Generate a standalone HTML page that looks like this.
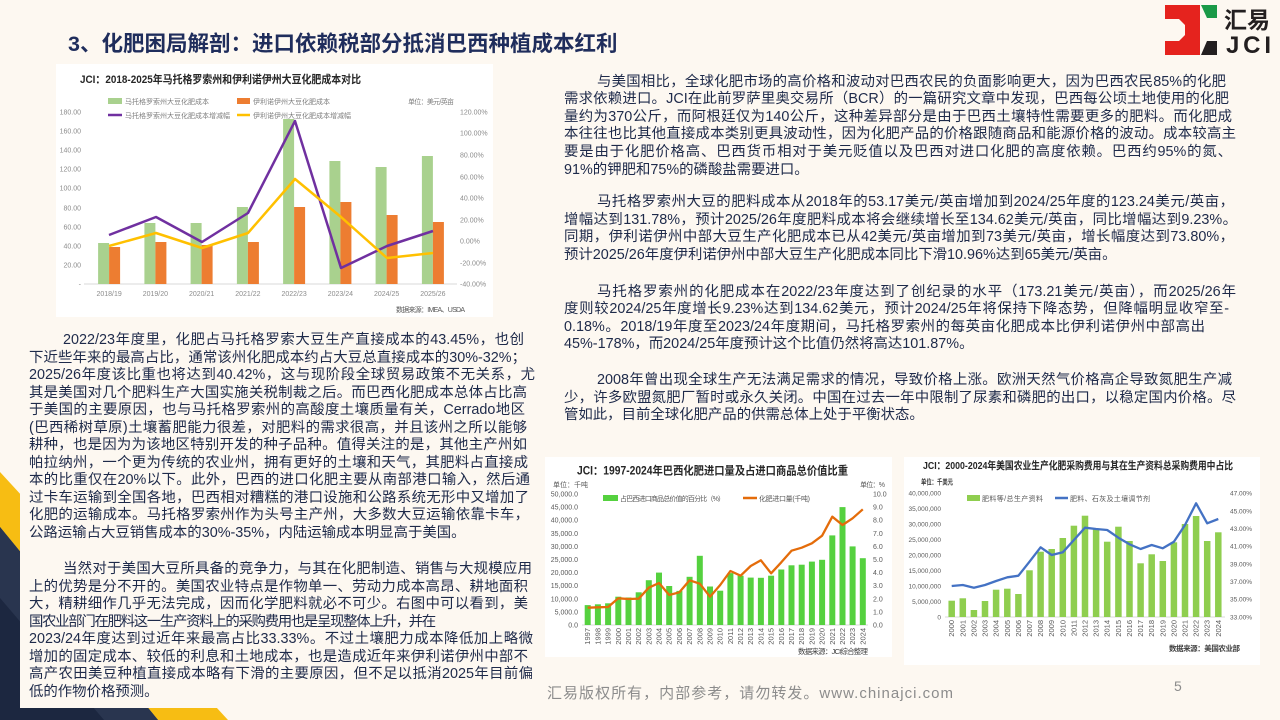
<!DOCTYPE html>
<html><head><meta charset="utf-8">
<style>
html,body{margin:0;padding:0;}
body{width:1280px;height:720px;position:relative;overflow:hidden;background:#fdf8f1;font-family:"Liberation Sans","Noto Sans CJK SC",sans-serif;}
svg{position:absolute;left:0;top:0;}
svg text{font-family:"Liberation Sans","Noto Sans CJK SC",sans-serif;}
.title{position:absolute;left:68px;top:31px;font-size:21.5px;line-height:26px;font-weight:bold;color:#1f2d5c;white-space:nowrap;}
.t{position:absolute;color:#1e2a4a;font-size:14.4px;}
.t div{height:17.6px;line-height:17.6px;overflow:visible;}
.l div{height:17.5px;line-height:17.5px;}
.r{left:564px;width:672px;}
.l{left:29px;width:500px;}
.j{text-align:justify;text-align-last:justify;}
.r .i{text-indent:33px;}
.l .i{text-indent:34px;}
</style></head><body>
<svg width="1280" height="720" viewBox="0 0 1280 720">
<!-- decoration bottom-left -->
<polygon points="0,472 228,720 158,720 0,527" fill="#f7bd13"/>
<polygon points="0,527 158,720 0,720" fill="#1c2740"/>
<polygon points="0,527 158,720 104,720 0,598" fill="#29354f"/>
<rect x="20" y="320" width="525" height="388" fill="#fdf8f1"/>

<!-- logo -->
<polygon points="1165,5 1200,5 1200,55 1165,55 1165,41 1179,41 1185,35 1185,25 1179,19 1165,19" fill="#e5231e"/>
<polygon points="1201,5 1217,5 1217,18 1207,18" fill="#1a9a48"/>
<polygon points="1207,41 1217,41 1217,55 1201,55" fill="#231f20"/>
<text x="1224" y="28" font-size="23" font-weight="bold" fill="#231f20">汇易</text>
<text x="1226" y="53" font-size="24" font-weight="bold" fill="#231f20" textLength="45" lengthAdjust="spacing">JCI</text>

<!-- Chart 1 -->
<rect x="56" y="64" width="437" height="253" fill="#ffffff"/>
<text x="80" y="83" font-size="11" font-weight="bold" fill="#262626" textLength="281" lengthAdjust="spacingAndGlyphs">JCI：2018-2025年马托格罗索州和伊利诺伊州大豆化肥成本对比</text>
<rect x="108" y="98" width="14" height="6" fill="#a9d18e"/>
<text x="125" y="104" font-size="7" fill="#7f7f7f">马托格罗索州大豆化肥成本</text>
<rect x="237" y="98" width="13" height="6" fill="#ed7d31"/>
<text x="253" y="104" font-size="7" fill="#7f7f7f">伊利诺伊州大豆化肥成本</text>
<text x="408" y="104" font-size="7" fill="#7f7f7f" textLength="46">单位：美元/英亩</text>
<line x1="108" y1="115" x2="122" y2="115" stroke="#7030a0" stroke-width="2.5"/>
<text x="125" y="118" font-size="7" fill="#7f7f7f">马托格罗索州大豆化肥成本增减幅</text>
<line x1="237" y1="115" x2="250" y2="115" stroke="#ffc000" stroke-width="2.5"/>
<text x="253" y="118" font-size="7" fill="#7f7f7f">伊利诺伊州大豆化肥成本增减幅</text>
<g font-size="7" fill="#8c8c8c" text-anchor="end">
<text x="81" y="114.5">180.00</text><text x="81" y="133.5">160.00</text><text x="81" y="152.5">140.00</text>
<text x="81" y="171.5">120.00</text><text x="81" y="190.5">100.00</text><text x="81" y="210.5">80.00</text>
<text x="81" y="229.5">60.00</text><text x="81" y="248.5">40.00</text><text x="81" y="267.5">20.00</text>
<text x="81" y="286.5">-</text>
</g>
<g font-size="7" fill="#8c8c8c">
<text x="460" y="114.5">120.00%</text><text x="460" y="135.5">100.00%</text><text x="460" y="157.5">80.00%</text>
<text x="460" y="179.5">60.00%</text><text x="460" y="200.5">40.00%</text><text x="460" y="222.5">20.00%</text>
<text x="460" y="243.5">0.00%</text><text x="460" y="265.5">-20.00%</text><text x="460" y="286.5">-40.00%</text>
</g>
<line x1="84" y1="284" x2="457" y2="284" stroke="#d9d9d9" stroke-width="1"/>
<g fill="#a9d18e">
<rect x="98.1" y="243" width="11" height="41"/><rect x="144.4" y="223" width="11" height="61"/>
<rect x="190.6" y="223" width="11" height="61"/><rect x="236.9" y="207" width="11" height="77"/>
<rect x="283.1" y="119" width="11" height="165"/><rect x="329.4" y="161" width="11" height="123"/>
<rect x="375.6" y="167" width="11" height="117"/><rect x="421.9" y="156" width="11" height="128"/>
</g>
<g fill="#ed7d31">
<rect x="109.1" y="247" width="11" height="37"/><rect x="155.4" y="242" width="11" height="42"/>
<rect x="201.6" y="245" width="11" height="39"/><rect x="247.9" y="242" width="11" height="42"/>
<rect x="294.1" y="207" width="11" height="77"/><rect x="340.4" y="202" width="11" height="82"/>
<rect x="386.6" y="215" width="11" height="69"/><rect x="432.9" y="222" width="11" height="62"/>
</g>
<polyline points="109,235 156,217 202,242 248,213 295,121 341,268 387,246 433,231" fill="none" stroke="#7030a0" stroke-width="2.5" stroke-linejoin="round"/>
<polyline points="109,246 156,233 202,248 248,233 295,179 341,217 387,258 433,253" fill="none" stroke="#ffc000" stroke-width="2.5" stroke-linejoin="round"/>
<g font-size="7" fill="#8c8c8c" text-anchor="middle">
<text x="109.1" y="296">2018/19</text><text x="155.4" y="296">2019/20</text><text x="201.6" y="296">2020/21</text>
<text x="247.9" y="296">2021/22</text><text x="294.1" y="296">2022/23</text><text x="340.4" y="296">2023/24</text>
<text x="386.6" y="296">2024/25</text><text x="432.9" y="296">2025/26</text>
</g>
<text x="396" y="312" font-size="7" fill="#595959" textLength="69">数据来源：IMEA、USDA</text>

<!-- Chart 2 -->
<rect x="545" y="457" width="347" height="200" fill="#ffffff"/>
<text x="577" y="474.5" font-size="11.5" font-weight="bold" fill="#262626" textLength="271" lengthAdjust="spacingAndGlyphs">JCI：1997-2024年巴西化肥进口量及占进口商品总价值比重</text>
<text x="553" y="487" font-size="7" fill="#595959" textLength="35">单位：千吨</text>
<text x="860" y="487" font-size="7" fill="#595959" textLength="25">单位：%</text>
<g font-size="7" fill="#595959" text-anchor="end">
<text x="578" y="496.5">50,000.0</text><text x="578" y="509.6">45,000.0</text><text x="578" y="522.7">40,000.0</text>
<text x="578" y="535.8">35,000.0</text><text x="578" y="548.9">30,000.0</text><text x="578" y="562">25,000.0</text>
<text x="578" y="575.1">20,000.0</text><text x="578" y="588.2">15,000.0</text><text x="578" y="601.3">10,000.0</text>
<text x="578" y="614.4">5,000.0</text><text x="578" y="627.5">0.0</text>
</g>
<g font-size="7" fill="#595959">
<text x="873" y="496.5">10.0</text><text x="873" y="509.6">9.0</text><text x="873" y="522.7">8.0</text>
<text x="873" y="535.8">7.0</text><text x="873" y="548.9">6.0</text><text x="873" y="562">5.0</text>
<text x="873" y="575.1">4.0</text><text x="873" y="588.2">3.0</text><text x="873" y="601.3">2.0</text>
<text x="873" y="614.4">1.0</text><text x="873" y="627.5">0.0</text>
</g>
<rect x="603" y="495" width="15" height="6" fill="#55d13f"/>
<text x="620" y="501" font-size="7" fill="#595959" textLength="105">占巴西进口商品总价值的百分比（%）</text>
<line x1="743" y1="498" x2="757" y2="498" stroke="#e46c0a" stroke-width="2.5"/>
<text x="759" y="501" font-size="7" fill="#595959" textLength="51">化肥进口量(千吨)</text>
<line x1="582" y1="625" x2="868" y2="625" stroke="#d9d9d9" stroke-width="1"/>
<g fill="#55d13f">
<rect x="584.7" y="605.1" width="6" height="19.9"/><rect x="594.9" y="604.3" width="6" height="20.7"/>
<rect x="605.1" y="603.3" width="6" height="21.7"/><rect x="615.3" y="596.7" width="6" height="28.3"/>
<rect x="625.5" y="597.5" width="6" height="27.5"/><rect x="635.7" y="592.3" width="6" height="32.7"/>
<rect x="645.8" y="580.2" width="6" height="44.8"/><rect x="656" y="572.6" width="6" height="52.4"/>
<rect x="666.2" y="586" width="6" height="39"/><rect x="676.4" y="590.9" width="6" height="34.1"/>
<rect x="686.6" y="576.8" width="6" height="48.2"/><rect x="696.8" y="555.8" width="6" height="69.2"/>
<rect x="707" y="586.5" width="6" height="38.5"/><rect x="717.2" y="590.7" width="6" height="34.3"/>
<rect x="727.4" y="573.1" width="6" height="51.9"/><rect x="737.6" y="575.7" width="6" height="49.3"/>
<rect x="747.7" y="577.6" width="6" height="47.4"/><rect x="757.9" y="577.8" width="6" height="47.2"/>
<rect x="768.1" y="575.7" width="6" height="49.3"/><rect x="778.3" y="569.5" width="6" height="55.5"/>
<rect x="788.5" y="565.3" width="6" height="59.7"/><rect x="798.7" y="564.7" width="6" height="60.3"/>
<rect x="808.9" y="561.6" width="6" height="63.4"/><rect x="819.1" y="559.8" width="6" height="65.2"/>
<rect x="829.3" y="535.4" width="6" height="89.6"/><rect x="839.5" y="507.1" width="6" height="117.9"/>
<rect x="849.6" y="546.4" width="6" height="78.6"/><rect x="859.8" y="558.2" width="6" height="66.8"/>
</g>
<polyline points="587.7,607.7 597.9,607.3 608.1,607 618.3,598.3 628.5,599 638.7,598.7 648.8,587.7 659,583 669.2,595 679.4,592.3 689.6,580.3 699.8,583.7 710,596.7 720.2,585 730.4,571 740.6,575.7 750.7,566 760.9,560.3 771.1,573.3 781.3,562.3 791.5,550.7 801.7,547.7 811.9,543.3 822.1,535.7 832.3,516.7 842.5,525 852.6,518.3 862.8,509.3" fill="none" stroke="#e46c0a" stroke-width="2.3" stroke-linejoin="round"/>
<g font-size="7.5" fill="#595959" text-anchor="end">
<text transform="translate(590.2,628) rotate(-90)">1997</text><text transform="translate(600.4,628) rotate(-90)">1998</text>
<text transform="translate(610.6,628) rotate(-90)">1999</text><text transform="translate(620.8,628) rotate(-90)">2000</text>
<text transform="translate(631,628) rotate(-90)">2001</text><text transform="translate(641.2,628) rotate(-90)">2002</text>
<text transform="translate(651.3,628) rotate(-90)">2003</text><text transform="translate(661.5,628) rotate(-90)">2004</text>
<text transform="translate(671.7,628) rotate(-90)">2005</text><text transform="translate(681.9,628) rotate(-90)">2006</text>
<text transform="translate(692.1,628) rotate(-90)">2007</text><text transform="translate(702.3,628) rotate(-90)">2008</text>
<text transform="translate(712.5,628) rotate(-90)">2009</text><text transform="translate(722.7,628) rotate(-90)">2010</text>
<text transform="translate(732.9,628) rotate(-90)">2011</text><text transform="translate(743.1,628) rotate(-90)">2012</text>
<text transform="translate(753.2,628) rotate(-90)">2013</text><text transform="translate(763.4,628) rotate(-90)">2014</text>
<text transform="translate(773.6,628) rotate(-90)">2015</text><text transform="translate(783.8,628) rotate(-90)">2016</text>
<text transform="translate(794,628) rotate(-90)">2017</text><text transform="translate(804.2,628) rotate(-90)">2018</text>
<text transform="translate(814.4,628) rotate(-90)">2019</text><text transform="translate(824.6,628) rotate(-90)">2020</text>
<text transform="translate(834.8,628) rotate(-90)">2021</text><text transform="translate(845,628) rotate(-90)">2022</text>
<text transform="translate(855.1,628) rotate(-90)">2023</text><text transform="translate(865.3,628) rotate(-90)">2024</text>
</g>
<text x="798" y="654" font-size="7.5" fill="#404040" textLength="70">数据来源：JCI综合整理</text>

<!-- Chart 3 -->
<rect x="904" y="457" width="356" height="208" fill="#ffffff"/>
<text x="923" y="469" font-size="10.5" font-weight="bold" fill="#262626" textLength="310" lengthAdjust="spacingAndGlyphs">JCI：2000-2024年美国农业生产化肥采购费用与其在生产资料总采购费用中占比</text>
<text x="921" y="484.5" font-size="7.5" font-weight="bold" fill="#404040" textLength="32" lengthAdjust="spacingAndGlyphs">单位：千美元</text>
<g font-size="6.5" fill="#595959" text-anchor="end">
<text x="941" y="495.6">40,000,000</text><text x="941" y="511.1">35,000,000</text><text x="941" y="526.5">30,000,000</text>
<text x="941" y="542">25,000,000</text><text x="941" y="557.4">20,000,000</text><text x="941" y="572.9">15,000,000</text>
<text x="941" y="588.3">10,000,000</text><text x="941" y="603.8">5,000,000</text><text x="941" y="619.3">0</text>
</g>
<g font-size="6.5" fill="#595959">
<text x="1230" y="495.6">47.00%</text><text x="1230" y="513.3">45.00%</text><text x="1230" y="531">43.00%</text>
<text x="1230" y="548.7">41.00%</text><text x="1230" y="566.3">39.00%</text><text x="1230" y="584">37.00%</text>
<text x="1230" y="601.6">35.00%</text><text x="1230" y="619.3">33.00%</text>
</g>
<rect x="967" y="495" width="13" height="6" fill="#8fce4f"/>
<text x="982" y="501" font-size="7" fill="#595959" textLength="61">肥料等/总生产资料</text>
<line x1="1055" y1="498" x2="1068" y2="498" stroke="#4472c4" stroke-width="2.5"/>
<text x="1070" y="501" font-size="7" fill="#595959" textLength="80">肥料、石灰及土壤调节剂</text>
<line x1="945" y1="617" x2="1225" y2="617" stroke="#d9d9d9" stroke-width="1"/>
<g fill="#8fce4f">
<rect x="948.45" y="600.7" width="6.5" height="16.3"/><rect x="959.55" y="598.3" width="6.5" height="18.7"/>
<rect x="970.65" y="610" width="6.5" height="7"/><rect x="981.75" y="601" width="6.5" height="16"/>
<rect x="992.85" y="589.7" width="6.5" height="27.3"/><rect x="1004.05" y="588.7" width="6.5" height="28.3"/>
<rect x="1015.15" y="594" width="6.5" height="23"/><rect x="1026.25" y="570.3" width="6.5" height="46.7"/>
<rect x="1037.35" y="551.7" width="6.5" height="65.3"/><rect x="1048.45" y="549" width="6.5" height="68"/>
<rect x="1059.55" y="538" width="6.5" height="79"/><rect x="1070.65" y="525.7" width="6.5" height="91.3"/>
<rect x="1081.75" y="515.7" width="6.5" height="101.3"/><rect x="1092.85" y="529" width="6.5" height="88"/>
<rect x="1103.95" y="541.7" width="6.5" height="75.3"/><rect x="1115.15" y="526.7" width="6.5" height="90.3"/>
<rect x="1126.25" y="541" width="6.5" height="76"/><rect x="1137.35" y="563.3" width="6.5" height="53.7"/>
<rect x="1148.45" y="554.3" width="6.5" height="62.7"/><rect x="1159.55" y="561" width="6.5" height="56"/>
<rect x="1170.65" y="542.3" width="6.5" height="74.7"/><rect x="1181.75" y="524" width="6.5" height="93"/>
<rect x="1192.85" y="516" width="6.5" height="101"/><rect x="1203.95" y="541" width="6.5" height="76"/>
<rect x="1215.05" y="532.3" width="6.5" height="84.7"/>
</g>
<polyline points="951.7,586 962.8,585 973.9,587.7 985,585 996.1,581 1007.3,577.3 1018.4,575.7 1029.5,561.7 1040.6,547.3 1051.7,555 1062.8,552.3 1073.9,540 1085,527.7 1096.1,529 1107.2,530 1118.4,537.7 1129.5,544.3 1140.6,549 1151.7,545 1162.8,548.3 1173.9,541.7 1185,525 1196.1,503.3 1207.2,523.3 1218.3,519" fill="none" stroke="#4472c4" stroke-width="2.3" stroke-linejoin="round"/>
<g font-size="7.5" fill="#595959" text-anchor="end">
<text transform="translate(954.2,620) rotate(-90)">2000</text><text transform="translate(965.3,620) rotate(-90)">2001</text>
<text transform="translate(976.4,620) rotate(-90)">2002</text><text transform="translate(987.5,620) rotate(-90)">2003</text>
<text transform="translate(998.6,620) rotate(-90)">2004</text><text transform="translate(1009.8,620) rotate(-90)">2005</text>
<text transform="translate(1020.9,620) rotate(-90)">2006</text><text transform="translate(1032,620) rotate(-90)">2007</text>
<text transform="translate(1043.1,620) rotate(-90)">2008</text><text transform="translate(1054.2,620) rotate(-90)">2009</text>
<text transform="translate(1065.3,620) rotate(-90)">2010</text><text transform="translate(1076.4,620) rotate(-90)">2011</text>
<text transform="translate(1087.5,620) rotate(-90)">2012</text><text transform="translate(1098.6,620) rotate(-90)">2013</text>
<text transform="translate(1109.7,620) rotate(-90)">2014</text><text transform="translate(1120.9,620) rotate(-90)">2015</text>
<text transform="translate(1132,620) rotate(-90)">2016</text><text transform="translate(1143.1,620) rotate(-90)">2017</text>
<text transform="translate(1154.2,620) rotate(-90)">2018</text><text transform="translate(1165.3,620) rotate(-90)">2019</text>
<text transform="translate(1176.4,620) rotate(-90)">2020</text><text transform="translate(1187.5,620) rotate(-90)">2021</text>
<text transform="translate(1198.6,620) rotate(-90)">2022</text><text transform="translate(1209.7,620) rotate(-90)">2023</text>
<text transform="translate(1220.8,620) rotate(-90)">2024</text>
</g>
<text x="1169" y="651" font-size="7.5" font-weight="bold" fill="#404040" textLength="71">数据来源：美国农业部</text>

<!-- footer -->
<text x="547" y="698" font-size="15" fill="#8c8c8c" textLength="406">汇易版权所有，内部参考，请勿转发。www.chinajci.com</text>
<text x="1174" y="691" font-size="14" fill="#8c8c8c">5</text>
</svg>

<div class="title">3、化肥困局解剖：进口依赖税部分抵消巴西种植成本红利</div>

<div class="t r" style="top:73.7px">
<div class="j i" style="width:662px">与美国相比，全球化肥市场的高价格和波动对巴西农民的负面影响更大，因为巴西农民85%的化肥</div>
<div class="j" style="width:665px">需求依赖进口。JCI在此前罗萨里奥交易所（BCR）的一篇研究文章中发现，巴西每公顷土地使用的化肥</div>
<div class="j" style="width:668px">量约为370公斤，而阿根廷仅为140公斤，这种差异部分是由于巴西土壤特性需要更多的肥料。而化肥成</div>
<div class="j">本往往也比其他直接成本类别更具波动性，因为化肥产品的价格跟随商品和能源价格的波动。成本较高主</div>
<div class="j" style="width:668px">要是由于化肥价格高、巴西货币相对于美元贬值以及巴西对进口化肥的高度依赖。巴西约95%的氮、</div>
<div>91%的钾肥和75%的磷酸盐需要进口。</div>
</div>

<div class="t r" style="top:194.2px">
<div class="j i" style="width:670px">马托格罗索州大豆的肥料成本从2018年的53.17美元/英亩增加到2024/25年度的123.24美元/英亩，</div>
<div class="j" style="width:673px">增幅达到131.78%，预计2025/26年度肥料成本将会继续增长至134.62美元/英亩，同比增幅达到9.23%。</div>
<div class="j" style="width:670px">同期，伊利诺伊州中部大豆生产化肥成本已从42美元/英亩增加到73美元/英亩，增长幅度达到73.80%，</div>
<div>预计2025/26年度伊利诺伊州中部大豆生产化肥成本同比下滑10.96%达到65美元/英亩。</div>
</div>

<div class="t r" style="top:283.7px">
<div class="j i" style="width:672px">马托格罗索州的化肥成本在2022/23年度达到了创纪录的水平（173.21美元/英亩），而2025/26年</div>
<div class="j" style="width:665px">度则较2024/25年度增长9.23%达到134.62美元，预计2024/25年将保持下降态势，但降幅明显收窄至-</div>
<div class="j" style="width:641px">0.18%。2018/19年度至2023/24年度期间，马托格罗索州的每英亩化肥成本比伊利诺伊州中部高出</div>
<div>45%-178%，而2024/25年度预计这个比值仍然将高达101.87%。</div>
</div>

<div class="t r" style="top:372.2px">
<div class="j i" style="width:668px">2008年曾出现全球生产无法满足需求的情况，导致价格上涨。欧洲天然气价格高企导致氮肥生产减</div>
<div class="j" style="width:672px">少，许多欧盟氮肥厂暂时或永久关闭。中国在过去一年中限制了尿素和磷肥的出口，以稳定国内价格。尽</div>
<div>管如此，目前全球化肥产品的供需总体上处于平衡状态。</div>
</div>

<div class="t l" style="top:332.2px">
<div class="j i" style="width:495px">2022/23年度里，化肥占马托格罗索大豆生产直接成本的43.45%，也创</div>
<div class="j" style="width:497px">下近些年来的最高占比，通常该州化肥成本约占大豆总直接成本的30%-32%；</div>
<div class="j" style="width:506px">2025/26年度该比重也将达到40.42%，这与现阶段全球贸易政策不无关系，尤</div>
<div class="j" style="width:498px">其是美国对几个肥料生产大国实施关税制裁之后。而巴西化肥成本总体占比高</div>
<div class="j" style="width:496px">于美国的主要原因，也与马托格罗索州的高酸度土壤质量有关，Cerrado地区</div>
<div class="j" style="width:498px">(巴西稀树草原)土壤蓄肥能力很差，对肥料的需求很高，并且该州之所以能够</div>
<div class="j" style="width:498px">耕种，也是因为为该地区特别开发的种子品种。值得关注的是，其他主产州如</div>
<div class="j" style="width:499px">帕拉纳州，一个更为传统的农业州，拥有更好的土壤和天气，其肥料占直接成</div>
<div class="j" style="width:501px">本的比重仅在20%以下。此外，巴西的进口化肥主要从南部港口输入，然后通</div>
<div class="j" style="width:500px">过卡车运输到全国各地，巴西相对糟糕的港口设施和公路系统无形中又增加了</div>
<div class="j" style="width:500px">化肥的运输成本。马托格罗索州作为头号主产州，大多数大豆运输依靠卡车，</div>
<div>公路运输占大豆销售成本的30%-35%，内陆运输成本明显高于美国。</div>
</div>

<div class="t l" style="top:561.3px">
<div class="j i" style="width:503px">当然对于美国大豆所具备的竞争力，与其在化肥制造、销售与大规模应用</div>
<div class="j" style="width:499px">上的优势是分不开的。美国农业特点是作物单一、劳动力成本高昂、耕地面积</div>
<div class="j" style="width:499px">大，精耕细作几乎无法完成，因而化学肥料就必不可少。右图中可以看到，美</div>
<div style="width:500px;white-space:nowrap;letter-spacing:-1.3px">国农业部门在肥料这一生产资料上的采购费用也是呈现整体上升，并在</div>
<div class="j" style="width:504px">2023/24年度达到过近年来最高占比33.33%。不过土壤肥力成本降低加上略微</div>
<div class="j" style="width:499px">增加的固定成本、较低的利息和土地成本，也是造成近年来伊利诺伊州中部不</div>
<div class="j" style="width:504px">高产农田美豆种植直接成本略有下滑的主要原因，但不足以抵消2025年目前偏</div>
<div>低的作物价格预测。</div>
</div>
</body></html>
